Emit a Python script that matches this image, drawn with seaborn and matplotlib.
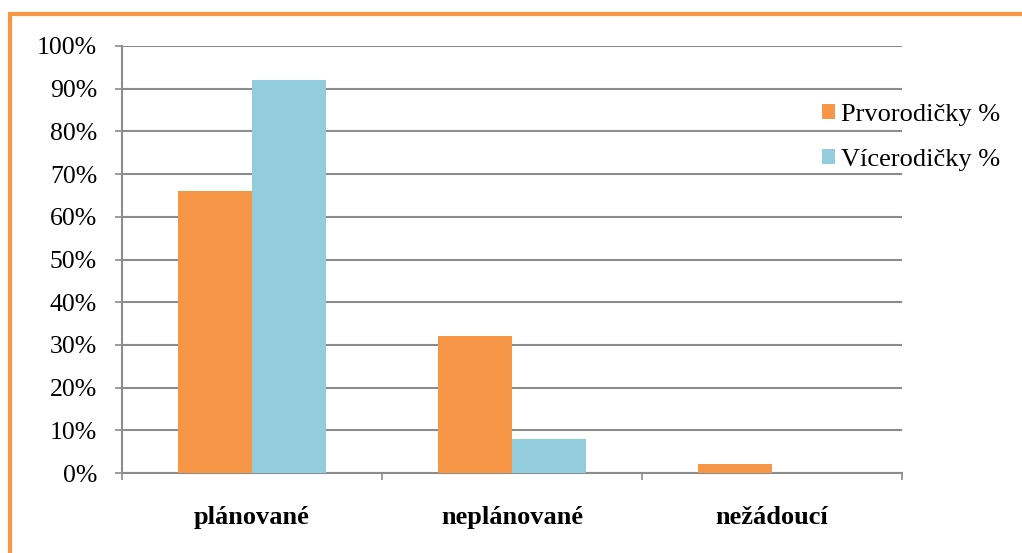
import matplotlib
matplotlib.use("Agg")
import matplotlib.pyplot as plt
import matplotlib.patches as mpatches
import seaborn as sns
import pandas as pd

categories = ["plánované", "neplánované", "nežádoucí"]
series_names = ["Prvorodičky %", "Vícerodičky %"]
prvorodicky = [66, 32, 2]
vicerodicky = [92, 8, 0]
y_ticks = [0, 10, 20, 30, 40, 50, 60, 70, 80, 90, 100]
y_tick_labels = [f"{v}%" for v in y_ticks]

df = pd.DataFrame({
    "kategorie": categories * 2,
    "skupina": [series_names[0]] * 3 + [series_names[1]] * 3,
    "hodnota": prvorodicky + vicerodicky,
})

sns.set_style("white")
plt.rcParams["font.family"] = ["Liberation Serif", "DejaVu Serif"]
plt.rcParams["text.color"] = "black"
plt.rcParams["xtick.labelcolor"] = "black"
plt.rcParams["ytick.labelcolor"] = "black"

W, H = 1022, 553
fig = plt.figure(figsize=(W / 100, H / 100), dpi=100)
ax = fig.add_axes([122 / W, (H - 473) / H, 780 / W, 427 / H])

palette = {series_names[0]: "#F79646", series_names[1]: "#93CDDD"}
sns.barplot(data=df, x="kategorie", y="hodnota", hue="skupina",
            order=categories, hue_order=series_names, palette=palette,
            width=0.57, gap=0, saturation=1, linewidth=0, ax=ax,
            legend=True, zorder=3)

grid_color = "#8C8C8C"
ax.set_xlim(-0.5, 2.5)
ax.set_ylim(0, 100)
ax.set_yticks(y_ticks)
ax.set_yticklabels(y_tick_labels, fontsize=18.5)
ax.yaxis.grid(True, color=grid_color, linewidth=1.5, zorder=0)
ax.set_axisbelow(True)
ax.tick_params(axis="y", direction="out", length=5, width=1.2, color=grid_color, pad=13, left=True)

ax.set_xticks(range(len(categories)))
ax.set_xticklabels(categories, fontsize=19, fontweight="bold")
ax.set_xticks([-0.5, 0.5, 1.5, 2.5], minor=True)
ax.tick_params(axis="x", which="major", length=0, pad=24)
ax.tick_params(axis="x", which="minor", direction="out", length=5, width=1.2, color=grid_color, bottom=True)

ax.set_xlabel("")
ax.set_ylabel("")
for side in ["top", "right"]:
    ax.spines[side].set_visible(False)
for side in ["left", "bottom"]:
    ax.spines[side].set_color(grid_color)
    ax.spines[side].set_linewidth(1.5)

leg = ax.legend(loc="upper left", bbox_to_anchor=(811 / W, (H - 93) / H),
                bbox_transform=fig.transFigure, frameon=False, fontsize=19,
                handlelength=0.5, handleheight=0.5, handletextpad=0.25,
                labelspacing=0.87, borderaxespad=0)
for t in leg.get_texts():
    t.set_color("black")

frame = mpatches.Rectangle((10 / W, -0.1), 1.2, (H - 14) / H + 0.1,
                           transform=fig.transFigure, fill=False,
                           edgecolor="#F79646", linewidth=3, clip_on=False)
fig.patches.append(frame)

fig.savefig("out.png", dpi=100, facecolor="white")
